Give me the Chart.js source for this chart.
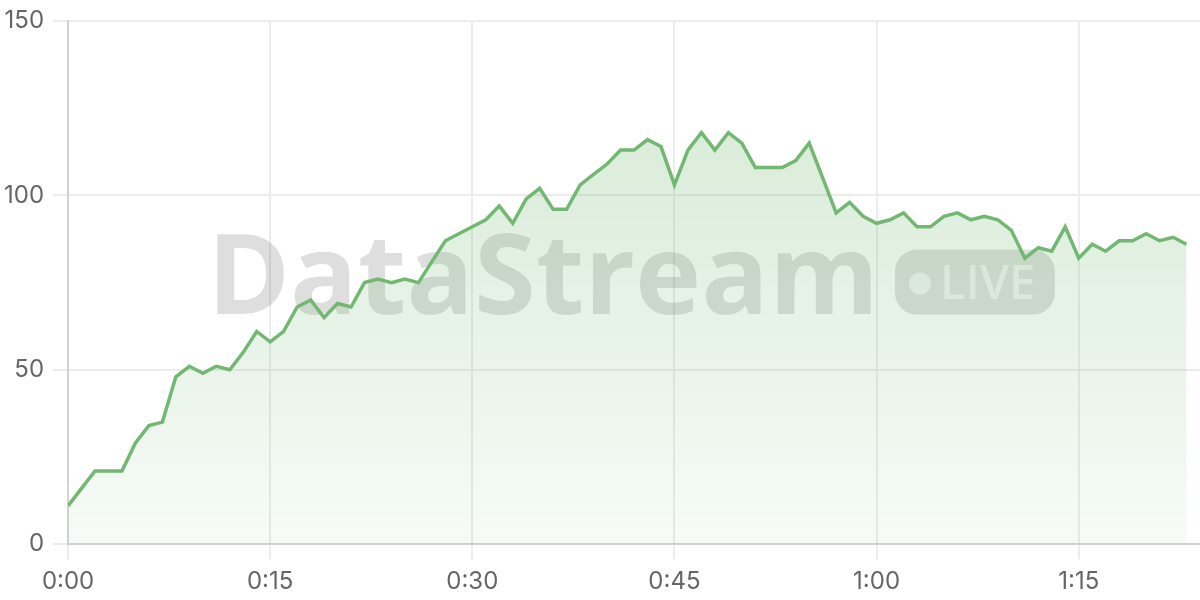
<!DOCTYPE html>
<html>
<head>
<meta charset="utf-8">
<script src="https://cdn.jsdelivr.net/npm/chart.js@4"></script>
<style>
  html, body { margin: 0; padding: 0; background: #fff; }
  #wrap { width: 1200px; height: 600px; position: relative; }
</style>
</head>
<body>
<div id="wrap"><canvas id="c"></canvas></div>
<script>
const minutes = [0,1,2,3,4,5,6,7,8,9,10,11,12,13,14,15,16,17,18,19,20,21,22,23,24,25,26,27,28,29,30,31,32,33,34,35,36,37,38,39,40,41,42,43,44,45,46,47,48,49,50,51,52,53,54,55,56,57,58,59,60,61,62,63,64,65,66,67,68,69,70,71,72,73,74,75,76,77,78,79,80,81,82,83];
const values = [11,16,21,21,21,29,34,35,48,51,49,51,50,55,61,58,61,68,70,65,69,68,75,76,75,76,75,81,87,89,91,93,97,92,99,102,96,96,103,106,109,113,113,116,114,103,113,118,113,118,115,108,108,108,110,115,105,95,98,94,92,93,95,91,91,94,95,93,94,93,90,82,85,84,91,82,86,84,87,87,89,87,88,86];
const xTickLabels = {0:'0:00',15:'0:15',30:'0:30',45:'0:45',60:'1:00',75:'1:15'};
const yTicks = [0,50,100,150];
const watermarkText = 'DataStream';
const badgeText = 'LIVE';

const lineColor = '#72b872';

const watermark = {
  id: 'watermark',
  beforeDatasetsDraw(chart) {
    const {ctx, chartArea: a} = chart;
    const cx = (a.left + a.right) / 2 - 3;
    const cy = (a.top + a.bottom) / 2;
    ctx.save();
    ctx.font = 'bold 112px "Open Sans"';
    const tw = ctx.measureText(watermarkText).width;
    const bw = 160, bh = 65, gap = 16;
    const total = tw + gap + bw;
    const x0 = cx - total / 2;
    ctx.fillStyle = 'rgba(0,0,0,0.13)';
    ctx.textBaseline = 'alphabetic';
    ctx.textAlign = 'left';
    ctx.fillText(watermarkText, x0, cy + 31);
    const bx = x0 + tw + gap, by = cy - 33;
    ctx.beginPath();
    ctx.roundRect(bx, by, bw, bh, 22);
    ctx.fill();
    ctx.fillStyle = 'rgba(255,255,255,0.62)';
    ctx.beginPath();
    ctx.arc(bx + 25, cy + 1, 11, 0, Math.PI * 2);
    ctx.fill();
    ctx.font = '600 47px "Open Sans"';
    ctx.fillText(badgeText, bx + 45, cy + 16);
    ctx.restore();
  }
};

const ctx = document.getElementById('c').getContext('2d');
new Chart(ctx, {
  type: 'line',
  data: {
    datasets: [{
      data: minutes.map((m, i) => ({x: m, y: values[i]})),
      borderColor: lineColor,
      borderWidth: 3.5,
      pointRadius: 0,
      tension: 0,
      fill: 'origin',
      backgroundColor(context) {
        const {chart} = context;
        const a = chart.chartArea;
        if (!a) return 'rgba(114,184,114,0.2)';
        const g = chart.ctx.createLinearGradient(0, a.top, 0, a.bottom);
        g.addColorStop(0, 'rgba(114,184,114,0.32)');
        g.addColorStop(1, 'rgba(114,184,114,0.06)');
        return g;
      }
    }]
  },
  options: {
    responsive: true,
    maintainAspectRatio: false,
    animation: false,
    devicePixelRatio: 1,
    layout: { padding: { top: 0, right: 0, left: 0, bottom: 0 } },
    plugins: { legend: { display: false }, tooltip: { enabled: false } },
    scales: {
      x: {
        type: 'linear',
        min: 0,
        max: 84,
        grid: { color: '#ececec', lineWidth: 2, tickLength: 15, tickColor: '#ececec' },
        border: { color: '#d2d2d2', width: 2 },
        afterFit: axis => { axis.height -= 4; },
        ticks: {
          stepSize: 15,
          includeBounds: false,
          color: '#666',
          font: { family: 'Inter', size: 24 },
          padding: 8,
          maxRotation: 0,
          callback: v => xTickLabels[v] !== undefined ? xTickLabels[v] : ''
        }
      },
      y: {
        min: 0,
        max: 150,
        grid: { color: '#ececec', lineWidth: 2, tickLength: 15, tickColor: '#ececec' },
        border: { color: '#d2d2d2', width: 2 },
        afterBuildTicks: axis => { axis.ticks = yTicks.map(v => ({value: v})); },
        afterFit: axis => { axis.width -= 5; },
        ticks: {
          color: '#666',
          font: { family: 'Inter', size: 24, lineHeight: 1.0 },
          padding: 9
        }
      }
    }
  },
  plugins: [watermark]
});
</script>
</body>
</html>
